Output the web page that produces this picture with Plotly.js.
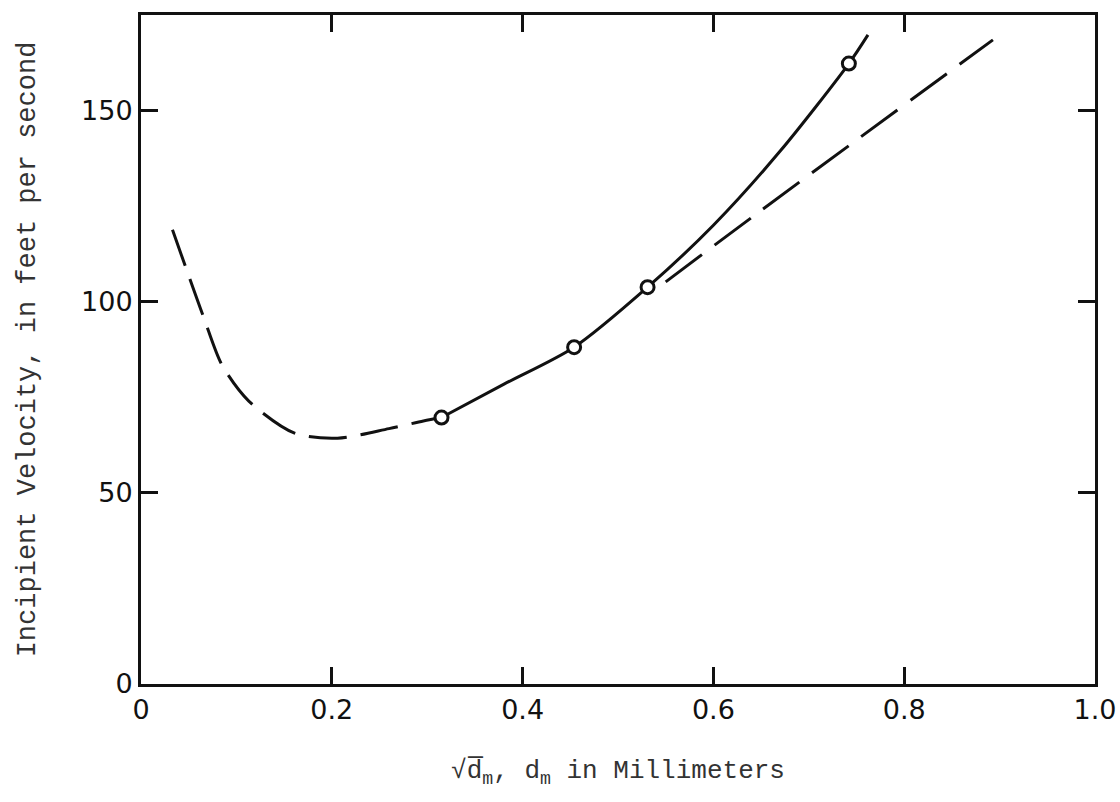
<!DOCTYPE html>
<html>
<head>
<meta charset="utf-8">
<script src="https://cdn.plot.ly/plotly-3.0.1.min.js"></script>
<style>html,body{margin:0;padding:0;background:#fff;}#chart{width:1120px;height:802px;}</style>
</head>
<body>
<div id="chart"></div>
<script>
// Observed points (open circles)
const obsX = [0.315, 0.454, 0.531, 0.742];
const obsY = [69.7, 88.1, 103.8, 162.3];

// Solid fitted curve through the observations
const solidX = [0.315, 0.381, 0.454, 0.531, 0.600, 0.670, 0.742, 0.762];
const solidY = [69.7, 78.5, 88.1, 103.8, 120.0, 139.4, 162.3, 169.8];

// Dashed extrapolation toward small sizes
const leftDashX = [0.033, 0.066, 0.085, 0.113, 0.161, 0.206, 0.260, 0.296, 0.315];
const leftDashY = [118.8, 95.7, 83.4, 74.0, 65.6, 64.3, 66.8, 68.8, 69.7];

// Dashed straight-line extension toward large sizes
const rightDashX = [0.550, 0.648, 0.893];
const rightDashY = [105.2, 123.5, 168.5];

const xTickVals = [0, 0.2, 0.4, 0.6, 0.8, 1.0];
const xTickText = ["0", "0.2", "0.4", "0.6", "0.8", "1.0"];
const yTickVals = [0, 50, 100, 150];
const yTickText = ["0", "50", "100", "150"];

const ink = "#111";

const traces = [
  {x: leftDashX, y: leftDashY, mode: "lines", type: "scatter",
   line: {color: ink, width: 3, dash: "38px,14px", shape: "spline", smoothing: 0.8}, hoverinfo: "skip"},
  {x: rightDashX, y: rightDashY, mode: "lines", type: "scatter",
   line: {color: ink, width: 3, dash: "45px,16px", shape: "spline"}, hoverinfo: "skip"},
  {x: solidX, y: solidY, mode: "lines", type: "scatter",
   line: {color: ink, width: 3, shape: "spline", smoothing: 0.8}, hoverinfo: "skip"},
  {x: obsX, y: obsY, mode: "markers", type: "scatter",
   marker: {symbol: "circle", size: 13, color: "#fff", line: {color: ink, width: 3}}}
];

const layout = {
  width: 1120, height: 802,
  paper_bgcolor: "#fff", plot_bgcolor: "#fff",
  showlegend: false,
  margin: {l: 141, r: 25, t: 15, b: 118},
  xaxis: {
    range: [0, 1.0], tickvals: xTickVals, ticktext: xTickText,
    showgrid: false, zeroline: false,
    showline: true, linecolor: ink, linewidth: 3, mirror: "ticks",
    ticks: "inside", ticklen: 17, tickwidth: 3, tickcolor: ink,
    tickfont: {family: "DejaVu Sans", size: 27, color: ink},
    title: {text: "√d\u0305<sub>m</sub>, d<sub>m</sub> in Millimeters",
            font: {family: "Liberation Mono", size: 26, color: "#333"}, standoff: 36}
  },
  yaxis: {
    range: [0, 175], tickvals: yTickVals, ticktext: yTickText,
    showgrid: false, zeroline: false,
    showline: true, linecolor: ink, linewidth: 3, mirror: "ticks",
    ticks: "inside", ticklen: 17, tickwidth: 3, tickcolor: ink,
    tickfont: {family: "DejaVu Sans", size: 27, color: ink},
    title: {text: "Incipient Velocity, in feet per second",
            font: {family: "Liberation Mono", size: 27, color: "#333"}, standoff: 38}
  }
};

Plotly.newPlot("chart", traces, layout, {staticPlot: true, displayModeBar: false});
</script>
</body>
</html>
